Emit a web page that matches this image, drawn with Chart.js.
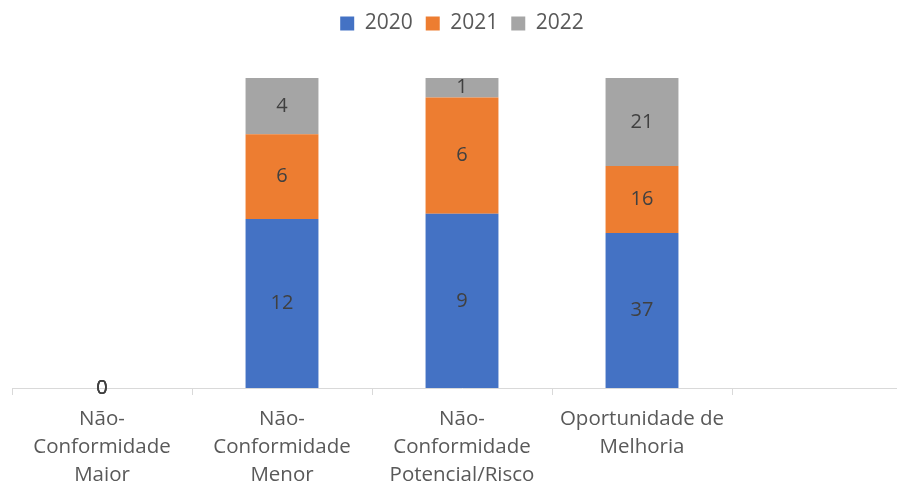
<!DOCTYPE html>
<html lang="pt">
<head>
    <meta charset="UTF-8">
    <title>Não-Conformidades por ano</title>
    <script src="https://cdn.jsdelivr.net/npm/chart.js"></script>
    <style>
        html, body {
            margin: 0;
            padding: 0;
            background: white;
            overflow: hidden;
        }
        .wrap {
            width: 912px;
            height: 486px;
        }
    </style>
</head>
<body>
    <div class="wrap">
        <canvas id="myChart" width="912" height="486"></canvas>
    </div>
    <script>
        const categories = [
            ['Não-', 'Conformidade', 'Maior'],
            ['Não-', 'Conformidade', 'Menor'],
            ['Não-', 'Conformidade', 'Potencial/Risco'],
            ['Oportunidade de', 'Melhoria'],
            ''
        ];
        const years = ['2020', '2021', '2022'];
        const values2020 = [0, 12, 9, 37, null];
        const values2021 = [0, 6, 6, 16, null];
        const values2022 = [0, 4, 1, 21, null];
        const colors = ['#4472C4', '#ED7D31', '#A5A5A5'];

        const series = [values2020, values2021, values2022];
        // column totals, used to stack everything to 100%
        const totals = categories.map((c, i) => series.reduce((s, arr) => s + (arr[i] || 0), 0));

        const datasets = series.map((arr, k) => ({
            label: years[k],
            raw: arr,
            data: arr.map((v, i) => v === null ? null : (totals[i] ? v / totals[i] * 100 : 0)),
            backgroundColor: colors[k],
            borderWidth: 0,
            barPercentage: 1,
            categoryPercentage: 0.405
        }));

        // write the count in the middle of each segment
        const valueLabels = {
            id: 'valueLabels',
            afterDatasetsDraw(chart) {
                const ctx = chart.ctx;
                ctx.save();
                ctx.font = '20px "Open Sans"';
                ctx.fillStyle = '#404040';
                ctx.textAlign = 'center';
                ctx.textBaseline = 'middle';
                chart.data.datasets.forEach((ds, k) => {
                    chart.getDatasetMeta(k).data.forEach((bar, i) => {
                        const v = ds.raw[i];
                        if (v === null || v === undefined) return;
                        ctx.fillText(String(v), bar.x, (bar.y + bar.base) / 2);
                    });
                });
                ctx.restore();
            }
        };

        // fixed legend block height so the bars start lower
        const legendHeight = {
            id: 'legendHeight',
            beforeInit(chart) {
                const fit = chart.legend.fit;
                chart.legend.fit = function () {
                    fit.call(this);
                    this.height = 78;
                };
            }
        };

        const ctx = document.getElementById('myChart').getContext('2d');
        const myChart = new Chart(ctx, {
            type: 'bar',
            data: {
                labels: categories,
                datasets: datasets
            },
            options: {
                responsive: false,
                animation: false,
                layout: {
                    padding: { left: 12, right: 0, top: 0, bottom: 0 }
                },
                plugins: {
                    legend: {
                        position: 'top',
                        labels: {
                            font: { family: 'Open Sans', size: 21 },
                            color: '#595959',
                            boxWidth: 14,
                            boxHeight: 14,
                            padding: 13
                        }
                    },
                    tooltip: { enabled: false }
                },
                scales: {
                    x: {
                        stacked: true,
                        afterFit(scale) {
                            scale.height = 98;
                        },
                        border: { color: '#D9D9D9', width: 1 },
                        grid: {
                            drawOnChartArea: false,
                            color: '#D9D9D9',
                            tickLength: 7
                        },
                        ticks: {
                            color: '#595959',
                            font: { family: 'Open Sans', size: 20.5, lineHeight: 1.36 },
                            maxRotation: 0,
                            autoSkip: false,
                            padding: 10
                        }
                    },
                    y: {
                        stacked: true,
                        display: false,
                        min: 0,
                        max: 100
                    }
                }
            },
            plugins: [valueLabels, legendHeight]
        });
    </script>
</body>
</html>
